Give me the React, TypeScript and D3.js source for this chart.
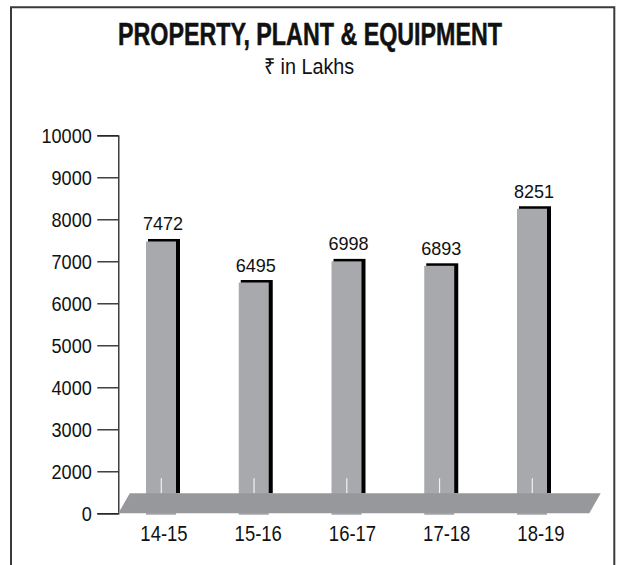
import React, { useEffect, useRef } from 'react'
import * as d3 from 'd3'

const categories = ['14-15', '15-16', '16-17', '17-18', '18-19']
const values = [7472, 6495, 6998, 6893, 8251]
const tickValues = [0, 2000, 3000, 4000, 5000, 6000, 7000, 8000, 9000, 10000]

const W = 621
const H = 565
const font = "'Liberation Sans', Arial, Helvetica, sans-serif"

export default function App() {
  const axisRef = useRef<SVGGElement>(null)

  // broken axis: 0 -> 2000 takes one step, like the reference
  const y = d3.scaleLinear().domain([0, 2000, 10000]).range([513.3, 471.3, 135.3])
  const xBar = d3.scalePoint<string>().domain(categories).range([161, 532])
  const xLabel = d3.scalePoint<string>().domain(categories).range([164, 541])
  const barW = 30
  const floorTop = 493.3
  const axisX = 118.3

  useEffect(() => {
    const g = d3.select(axisRef.current)
    g.selectAll('*').remove()
    const axis = d3.axisLeft(y).tickValues(tickValues).tickSize(21).tickPadding(5).tickFormat(d3.format('d'))
    g.call(axis)
    g.select('.domain').attr('stroke', '#231f20').attr('stroke-width', 1.3)
    g.selectAll('.tick line').attr('stroke', '#231f20').attr('stroke-width', 1.3)
    // condensed look: squeeze the glyphs a little
    g.selectAll('.tick text')
      .attr('x', 0)
      .attr('transform', 'translate(-26.5,0) scale(0.93,1)')
      .attr('font-family', font)
      .attr('font-size', 19.5)
      .attr('fill', '#111')
      .attr('dy', '0.36em')
  }, [])

  const floor = [
    [axisX + 11.5, floorTop],
    [600.7, floorTop],
    [589.3, y(0)],
    [axisX, y(0)],
  ]

  return (
    <svg width={W} height={H} style={{ position: 'absolute', left: 0, top: 0, background: '#fff' }}>
      <path d={`M11,${H + 2} V7.3 H614.3 V${H + 2}`} fill="none" stroke="#3a3a3a" strokeWidth={2} />

      <text transform="translate(310,45) scale(0.751,1)" textAnchor="middle" fontFamily={font}
        fontWeight="bold" fontSize={31} fill="#111" stroke="#111" strokeWidth={0.5}>
        PROPERTY, PLANT &amp; EQUIPMENT
      </text>
      <text transform="translate(309,74) scale(0.9,1)" textAnchor="middle" fontFamily={font}
        fontSize={22} fill="#111">
        ₹ in Lakhs
      </text>

      <g ref={axisRef} transform={`translate(${axisX},0)`} />

      {categories.map((c, i) => {
        const x0 = (xBar(c) as number) - barW / 2
        const top = y(values[i])
        return (
          <g key={c}>
            <rect x={x0 + 2} y={top - 2.5} width={barW + 2} height={floorTop - top + 2.5} fill="#000" />
            <rect x={x0} y={top} width={barW} height={y(0) + 1.5 - top} fill="#a7a9ac" />
            <line x1={x0 + 15.3} x2={x0 + 15.3} y1={478.3} y2={floorTop} stroke="#f2f2f2" strokeWidth={1.2} />
            <text transform={`translate(${x0 + 17},${top - 11}) scale(0.95,1)`} textAnchor="middle"
              fontFamily={font} fontSize={19} fill="#111">
              {values[i]}
            </text>
          </g>
        )
      })}

      <polygon points={floor.map(p => p.join(',')).join(' ')} fill="#97989b" />

      {categories.map(c => (
        <text key={c} transform={`translate(${xLabel(c)},540.7) scale(0.86,1)`} textAnchor="middle"
          fontFamily={font} fontSize={21.5} fill="#111">
          {c}
        </text>
      ))}
    </svg>
  )
}
